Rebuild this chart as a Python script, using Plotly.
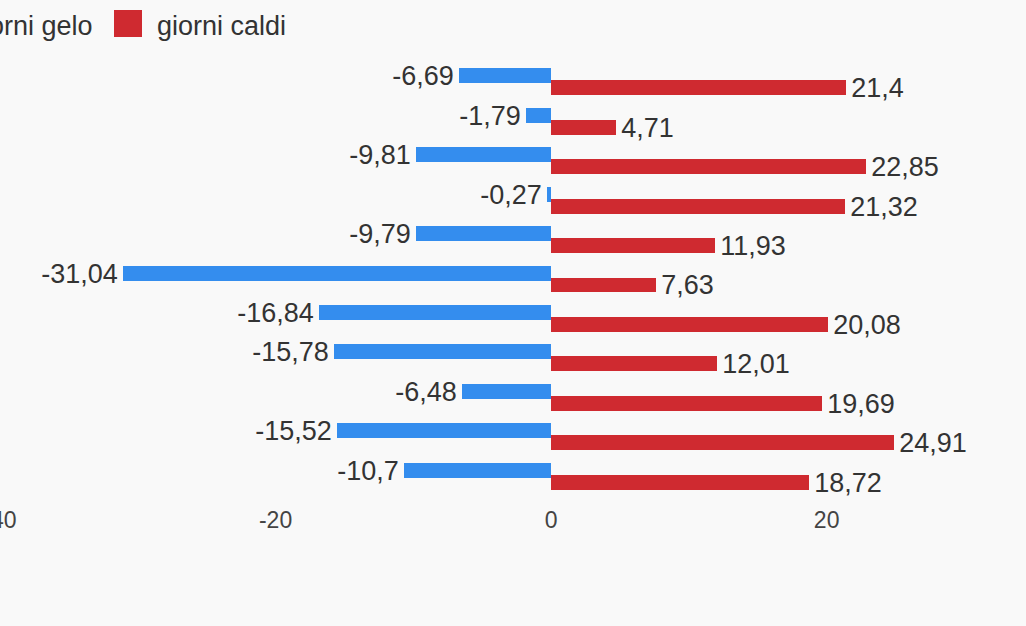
import plotly.graph_objects as go

# ---- data ----
categorie = ["1", "2", "3", "4", "5", "6", "7", "8", "9", "10", "11"]
giorni_gelo = [-6.69, -1.79, -9.81, -0.27, -9.79, -31.04, -16.84, -15.78, -6.48, -15.52, -10.7]
giorni_caldi = [21.4, 4.71, 22.85, 21.32, 11.93, 7.63, 20.08, 12.01, 19.69, 24.91, 18.72]
x_ticks = [-40, -20, 0, 20]
serie_nomi = ["giorni gelo", "giorni caldi"]

BLUE = "#348DEE"
RED = "#CF2A30"
BG = "#F9F9F9"
TXT = "#333333"
TICK = "#444444"
FONT = "Liberation Sans, Arial, sans-serif"

W, H = 1026, 626
MT, MB = 62, 130
PH = H - MT - MB
GAP = "\u200a"  # tiny extra spacing between bar end and its label


def lab(v):
    return str(v).replace(".", ",")


fig = go.Figure()
fig.add_trace(go.Bar(
    y=categorie, x=giorni_gelo, orientation="h", name=serie_nomi[0],
    marker=dict(color=BLUE, line=dict(width=0)),
    width=0.38, offset=-0.342,
    text=[lab(v) + GAP for v in giorni_gelo], textposition="outside",
    textfont=dict(family=FONT, size=27, color=TXT),
    constraintext="none", cliponaxis=False, showlegend=False,
))
fig.add_trace(go.Bar(
    y=categorie, x=giorni_caldi, orientation="h", name=serie_nomi[1],
    marker=dict(color=RED, line=dict(width=0)),
    width=0.38, offset=-0.038,
    text=[GAP + lab(v) for v in giorni_caldi], textposition="outside",
    textfont=dict(family=FONT, size=27, color=TXT),
    constraintext="none", cliponaxis=False, showlegend=False,
))


def px_x(p):
    return p / W


def px_y(p):
    return (H - MB - p) / PH


# manual legend (large square swatches)
shapes = [
    dict(type="rect", xref="paper", yref="paper",
         x0=px_x(-45), x1=px_x(-17), y0=px_y(37), y1=px_y(10),
         fillcolor=BLUE, line=dict(width=0)),
    dict(type="rect", xref="paper", yref="paper",
         x0=px_x(114), x1=px_x(142), y0=px_y(37), y1=px_y(10),
         fillcolor=RED, line=dict(width=0)),
]
annotations = [
    dict(xref="paper", yref="paper", x=px_x(95), y=px_y(26), xanchor="right", yanchor="middle",
         text=serie_nomi[0], showarrow=False, font=dict(family=FONT, size=27, color=TXT)),
    dict(xref="paper", yref="paper", x=px_x(155), y=px_y(26), xanchor="left", yanchor="middle",
         text=serie_nomi[1], showarrow=False, font=dict(family=FONT, size=27, color=TXT)),
]

fig.update_layout(
    width=W, height=H, autosize=False,
    margin=dict(l=0, r=0, t=MT, b=MB, pad=0),
    paper_bgcolor=BG, plot_bgcolor=BG,
    barmode="overlay", bargap=0,
    font=dict(family=FONT, color=TXT),
    shapes=shapes, annotations=annotations,
    showlegend=False,
    xaxis=dict(range=[-40, 34.47], tickvals=x_ticks, ticktext=[str(t) for t in x_ticks],
               showgrid=False, zeroline=False, showline=False,
               ticks="outside", ticklen=3, tickcolor=BG,
               ticklabeloverflow="allow",
               tickfont=dict(family=FONT, size=23, color=TICK), automargin=False),
    yaxis=dict(categoryorder="array", categoryarray=categorie, range=[10.5, -0.5],
               showticklabels=False, showgrid=False, zeroline=False, showline=False,
               ticks="", automargin=False),
)

fig.write_html("out.html", config={"displayModeBar": False},
               post_script="document.body.style.margin='0';document.body.style.overflow='hidden';")
